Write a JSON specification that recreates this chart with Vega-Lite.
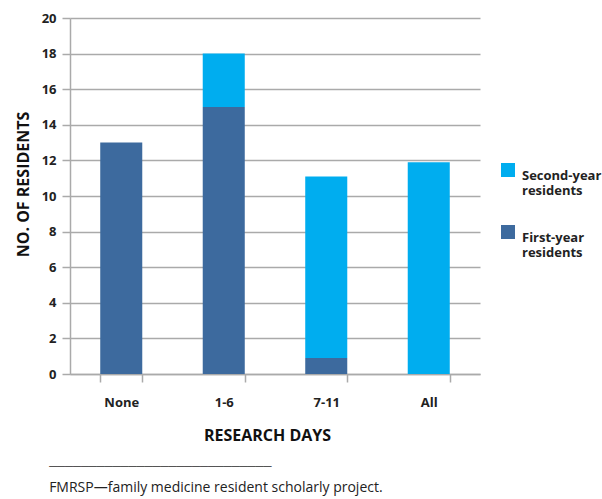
{
  "$schema": "https://vega.github.io/schema/vega-lite/v6.json",
  "width": 410,
  "height": 356,
  "autosize": {"type": "none"},
  "padding": {"left": 70, "top": 18, "right": 122, "bottom": 125},
  "background": "white",
  "data": {
    "values": [
      {"days": "None", "group": "First-year residents", "count": 13, "ord": 1},
      {"days": "1-6", "group": "First-year residents", "count": 15, "ord": 1},
      {"days": "1-6", "group": "Second-year residents", "count": 3, "ord": 2},
      {"days": "7-11", "group": "First-year residents", "count": 0.9, "ord": 1},
      {"days": "7-11", "group": "Second-year residents", "count": 10.2, "ord": 2},
      {"days": "All", "group": "Second-year residents", "count": 11.9, "ord": 2}
    ]
  },
  "title": {
    "text": "────────────────────────────",
    "subtitle": "FMRSP—family medicine resident scholarly project.",
    "orient": "bottom",
    "anchor": "start",
    "frame": "bounds",
    "offset": 18,
    "dx": 34,
    "font": "DejaVu Sans",
    "fontSize": 13.2,
    "fontWeight": "normal",
    "color": "#555555",
    "subtitleFont": "Open Sans",
    "subtitleFontSize": 14,
    "subtitleColor": "#222222",
    "subtitlePadding": 7
  },
  "mark": {"type": "bar"},
  "encoding": {
    "x": {
      "field": "days",
      "type": "nominal",
      "sort": ["None", "1-6", "7-11", "All"],
      "scale": {"paddingInner": 0.59, "paddingOuter": 0.295},
      "axis": {
        "title": "RESEARCH DAYS",
        "titleFont": "Open Sans",
        "titleFontSize": 16,
        "titleFontWeight": "bold",
        "titleColor": "#111111",
        "titlePadding": 18,
        "titleX": 197,
        "labelFont": "Open Sans",
        "labelFontSize": 13,
        "labelFontWeight": "bold",
        "labelColor": "#222222",
        "labelAngle": 0,
        "labelPadding": 14,
        "tickBand": "extent",
        "tickSize": 8,
        "tickColor": "#aaaaaa",
        "tickWidth": 1.5,
        "domainColor": "#aaaaaa",
        "domainWidth": 1.5
      }
    },
    "y": {
      "field": "count",
      "type": "quantitative",
      "stack": "zero",
      "scale": {"domain": [0, 20], "nice": false},
      "axis": {
        "title": "NO. OF RESIDENTS",
        "titleFont": "Open Sans",
        "titleFontSize": 16,
        "titleFontWeight": "bold",
        "titleColor": "#111111",
        "titlePadding": 10,
        "titleY": 166,
        "values": [0, 2, 4, 6, 8, 10, 12, 14, 16, 18, 20],
        "labelFont": "Open Sans",
        "labelFontSize": 13,
        "labelFontWeight": "bold",
        "labelColor": "#222222",
        "labelPadding": 6,
        "tickSize": 8,
        "tickColor": "#aaaaaa",
        "tickWidth": 1.5,
        "domainColor": "#aaaaaa",
        "domainWidth": 1.5,
        "grid": true,
        "gridColor": "#aaaaaa",
        "gridWidth": 1.5
      }
    },
    "color": {
      "field": "group",
      "type": "nominal",
      "scale": {
        "domain": ["Second-year residents", "First-year residents"],
        "range": ["#00adef", "#3d6a9e"]
      },
      "legend": {
        "title": null,
        "orient": "none",
        "legendX": 431,
        "legendY": 145,
        "symbolType": "square",
        "symbolSize": 196,
        "symbolStrokeWidth": 0,
        "symbolOpacity": 1,
        "labelFont": "Open Sans",
        "labelFontSize": 13,
        "labelFontWeight": "bold",
        "labelColor": "#222222",
        "labelExpr": "split(datum.label, ' ')",
        "labelOffset": 7,
        "labelBaseline": "top",
        "rowPadding": 27
      }
    },
    "order": {"field": "ord", "type": "quantitative"}
  },
  "config": {"view": {"stroke": null}}
}
